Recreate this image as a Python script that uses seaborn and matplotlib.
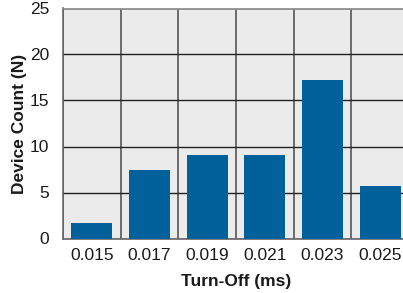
import matplotlib
matplotlib.use("Agg")
import matplotlib.pyplot as plt
import seaborn as sns
import pandas as pd
import numpy as np
from matplotlib.ticker import FixedLocator

categories = ["0.015", "0.017", "0.019", "0.021", "0.023", "0.025"]
counts = [1.7, 7.5, 9.1, 9.1, 17.2, 5.7]

sns.set_theme(style="white")
plt.rcParams['font.family'] = ['Liberation Sans', 'DejaVu Sans']

df = pd.DataFrame({"Turn-Off": categories, "Count": counts})

fig = plt.figure(figsize=(4.03, 2.93), dpi=100)
ax = fig.add_axes([63/403, 1 - 238.5/293, 346/403, 230/293])
ax.set_facecolor("#ebebeb")

sns.barplot(data=df, x="Turn-Off", y="Count", color="#02609a", width=0.71,
            saturation=1, ax=ax, zorder=3, linewidth=0, edgecolor="none")

ax.set_xlim(-0.5, 5.5)
ax.set_ylim(0, 25)
ax.set_yticks([0, 5, 10, 15, 20, 25])
ax.yaxis.grid(True, color="#222222", linewidth=1.0, zorder=1)
ax.xaxis.set_minor_locator(FixedLocator(np.arange(-0.5, 6, 1.0)))
ax.xaxis.grid(True, which="minor", color="#555555", linewidth=1.2, zorder=1)
ax.xaxis.grid(False, which="major")
ax.set_axisbelow(True)

ax.spines["right"].set_visible(False)
ax.spines["top"].set_color("#888888")
ax.spines["top"].set_linewidth(1.2)
for s in ["left", "bottom"]:
    ax.spines[s].set_color("#666666")
    ax.spines[s].set_linewidth(1.2)

fs = 12.5
ax.tick_params(axis="both", which="both", length=0, labelsize=fs, colors="#1a1a1a")
ax.tick_params(axis="y", pad=10)
ax.tick_params(axis="x", pad=7)

ax.set_xlabel("Turn-Off (ms)", fontsize=fs, fontweight="bold", color="#1a1a1a", labelpad=8)
ax.set_ylabel("Device Count (N)", fontsize=fs, fontweight="bold", color="#1a1a1a", labelpad=2)

fig.savefig("out.png", dpi=100)
